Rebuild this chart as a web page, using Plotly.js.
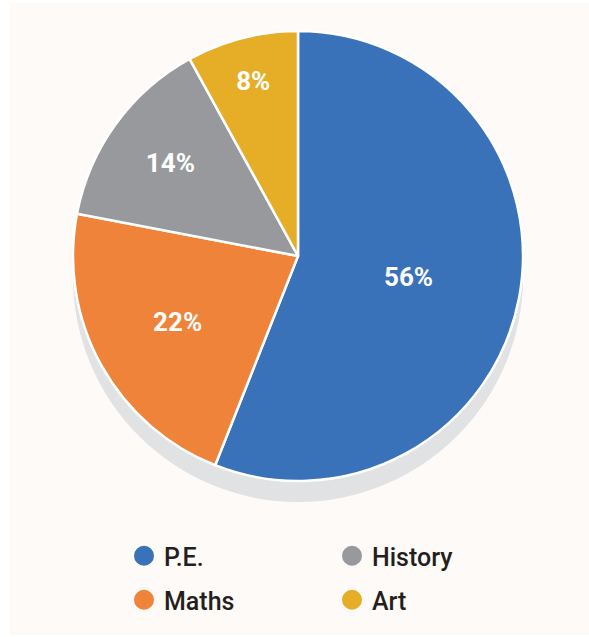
<!DOCTYPE html>
<html>
<head>
<meta charset="utf-8">
<script src="https://cdn.plot.ly/plotly-3.0.1.min.js"></script>
<style>
html,body{margin:0;padding:0;background:#ffffff;}
#chart{position:absolute;left:10px;top:3px;width:579px;height:632px;}
</style>
</head>
<body>
<div id="chart"></div>
<script>
// Data
var subjects = ['P.E.', 'Maths', 'History', 'Art'];
var shares = [56, 22, 14, 8];
var colors = ['#3a72b9', '#f0833a', '#97999c', '#e6ad27'];
// legend layout: row 1 and row 2
var legendRow1 = ['P.E.', 'History'];
var legendRow2 = ['Maths', 'Art'];

var W = 579, H = 632;
var cx = 288, cy = 253, R = 225, shadowOffset = 21;

function dom(cxp, cyp) {
  return {
    x: [(cxp - R) / W, (cxp + R) / W],
    y: [(H - (cyp + R)) / H, (H - (cyp - R)) / H]
  };
}

var traces = [];
// shadow
traces.push({
  type: 'pie',
  values: [1],
  labels: ['shadow'],
  marker: {colors: ['#e1e2e3'], line: {width: 0}},
  textinfo: 'none',
  hoverinfo: 'skip',
  showlegend: false,
  sort: false,
  domain: dom(cx, cy + shadowOffset)
});
// main pie
traces.push({
  type: 'pie',
  values: shares,
  labels: subjects,
  sort: false,
  direction: 'clockwise',
  rotation: 0,
  marker: {colors: colors, line: {color: '#ffffff', width: 2.5}},
  textinfo: 'percent',
  texttemplate: '%{value}%',
  textposition: 'inside',
  insidetextorientation: 'horizontal',
  insidetextfont: {family: 'Roboto', size: 26, color: '#ffffff', weight: 'bold'},
  showlegend: false,
  domain: dom(cx, cy)
});
// legend entries
function addLegend(names, legendId) {
  names.forEach(function (n) {
    var i = subjects.indexOf(n);
    traces.push({
      type: 'scatter',
      mode: 'markers',
      x: [null], y: [null],
      name: n,
      legend: legendId,
      marker: {symbol: 'circle', size: 16, color: colors[i], line: {color: colors[i], width: 4}},
      hoverinfo: 'skip'
    });
  });
}
addLegend(legendRow1, 'legend');
addLegend(legendRow2, 'legend2');

var legendFont = {family: 'Roboto', size: 25, color: '#231f20', weight: 500};
var legendBase = {
  orientation: 'h', xanchor: 'left', yanchor: 'middle',
  font: legendFont, bgcolor: 'rgba(0,0,0,0)', entrywidth: 163, entrywidthmode: 'pixels',
  itemclick: false, itemdoubleclick: false
};
var layout = {
  width: W, height: H,
  margin: {l: 0, r: 0, t: 0, b: 0},
  paper_bgcolor: '#fefaf7',
  plot_bgcolor: 'rgba(0,0,0,0)',
  xaxis: {visible: false},
  yaxis: {visible: false},
  showlegend: true,
  legend: Object.assign({}, legendBase, {x: 114 / W, y: (H - 553) / H}),
  legend2: Object.assign({}, legendBase, {x: 114 / W, y: (H - 597) / H})
};

Plotly.newPlot('chart', traces, layout, {displayModeBar: false, staticPlot: true});
</script>
</body>
</html>
